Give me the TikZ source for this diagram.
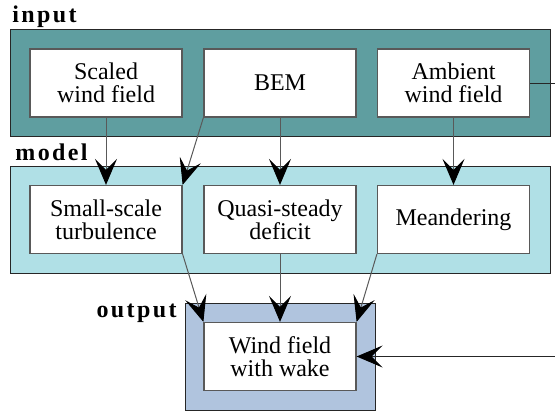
\documentclass[tikz,border=0pt]{standalone}
\usepackage{fontspec}
\setmainfont{Liberation Serif}
\usetikzlibrary{arrows.meta}
\definecolor{inputfill}{HTML}{5F9EA0}
\definecolor{modelfill}{HTML}{B0E0E6}
\definecolor{outputfill}{HTML}{B0C4DE}
\newcommand{\spreadword}[1]{\def\spreadsep{}\spreadloop#1\relax}
\def\spreadloop#1{\ifx#1\relax\else\spreadsep#1\def\spreadsep{\kern1.2pt}\expandafter\spreadloop\fi}
\begin{document}
\begin{tikzpicture}[x=0.5pt, y=-0.5pt,
    >={Stealth[length=13pt, width=11pt, inset=5.5pt, black]},
    font=\fontsize{12}{11.5}\selectfont,
    stage/.style={draw=black!85, line width=0.5pt, minimum width=270pt, minimum height=53.5pt, inner sep=0pt},
    block/.style={draw=black!65, fill=white, line width=0.6pt, minimum width=76pt, minimum height=34pt, align=center, inner sep=0pt},
    tag/.style={font=\fontsize{12}{12}\selectfont\bfseries, inner sep=0pt},
    link/.style={->, draw=black!65, line width=0.5pt}]
\useasboundingbox (0,0) rectangle (555,412);

% the three stages
\node[stage, fill=inputfill] (input) at (280,82.5) {};
\node[stage, fill=modelfill] (model) at (280,219.5) {};
\node[stage, fill=outputfill, minimum width=95pt] (output) at (280,356.5) {};

\node[tag, anchor=base west] (inputtag) at (12,22) {\spreadword{input}};
\node[tag, anchor=base west] (modeltag) at (15,160) {\spreadword{model}};
\node[tag, anchor=base east] (outputtag) at (177,317) {\spreadword{output}};

% blocks
\node[block] (scaled) at (106,83) {Scaled\\wind field};
\node[block] (bem) at (280,83) {BEM};
\node[block] (ambient) at (453.5,83) {Ambient\\wind field};

\node[block] (small) at (106,219.5) {Small-scale\\turbulence};
\node[block] (quasi) at (280,219.5) {Quasi-steady\\deficit};
\node[block] (meander) at (453.5,219.5) {Meandering};

\node[block] (wake) at (280,356.5) {Wind field\\with wake};

% links
\draw[link] (scaled) -- (small);
\draw[link] (bem.south west) -- (small.north east);
\draw[link] (bem) -- (quasi);
\draw[link] (ambient) -- (meander);

\draw[link] (small.south east) -- (wake.north west);
\draw[link] (quasi) -- (wake);
\draw[link] (meander.south west) -- (wake.north east);

\coordinate (bend) at (565,83);
\draw[link, draw=black!85] (ambient.east) -- (bend) |- (wake.east);
\end{tikzpicture}
\end{document}
